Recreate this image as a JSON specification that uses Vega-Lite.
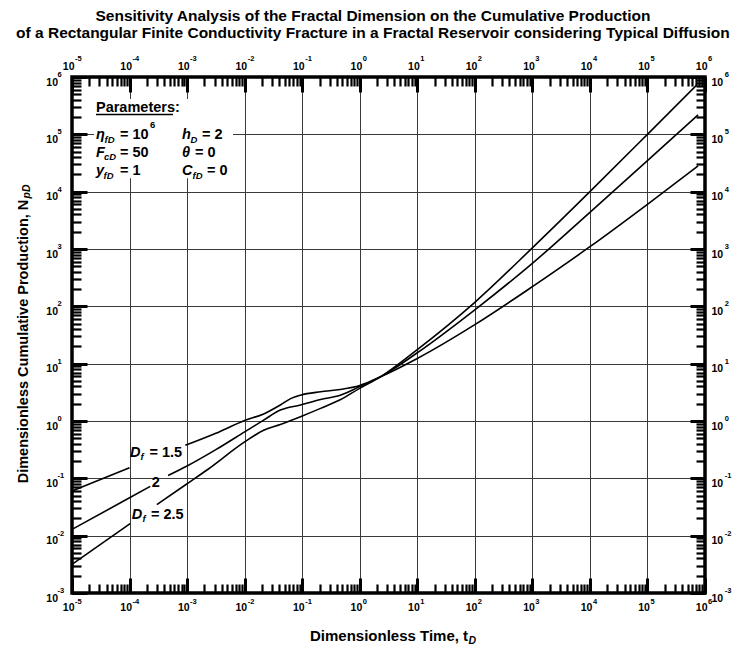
{
  "$schema": "https://vega.github.io/schema/vega-lite/v6.json",
  "width": 633,
  "height": 516,
  "autosize": {"type": "none"},
  "padding": {"left": 72, "top": 77, "right": 39, "bottom": 52},
  "background": "white",
  "title": {
    "text": ["Sensitivity Analysis of the Fractal Dimension on the Cumulative Production", "of a Rectangular Finite Conductivity Fracture in a Fractal Reservoir considering Typical Diffusion"],
    "font": "Liberation Sans",
    "fontSize": 15.5,
    "fontWeight": "bold",
    "color": "black",
    "lineHeight": 17,
    "anchor": "middle",
    "frame": "bounds",
    "offset": 13
  },
  "config": {
    "font": "Liberation Sans",
    "view": {"stroke": "black", "strokeWidth": 3.5},
    "axis": {
      "labelFont": "Liberation Sans",
      "titleFont": "Liberation Sans",
      "labelFontWeight": "bold",
      "titleFontWeight": "bold",
      "labelColor": "black",
      "titleColor": "black",
      "tickColor": "black",
      "domain": false,
      "grid": false,
      "labelFlush": false,
      "labelOverlap": false,
      "labelBound": false
    }
  },
  "datasets": {
    "curves": [
      {"df": "1.5", "seg": "a1", "t": 0.00001, "np": 0.06026},
      {"df": "1.5", "seg": "a1", "t": 0.0001, "np": 0.1531},
      {"df": "1.5", "seg": "a2", "t": 0.0009333, "np": 0.3758},
      {"df": "1.5", "seg": "a2", "t": 0.003162, "np": 0.6095},
      {"df": "1.5", "seg": "a2", "t": 0.01, "np": 1.023},
      {"df": "1.5", "seg": "a2", "t": 0.02138, "np": 1.33},
      {"df": "1.5", "seg": "a2", "t": 0.04169, "np": 1.905},
      {"df": "1.5", "seg": "a2", "t": 0.0631, "np": 2.455},
      {"df": "1.5", "seg": "a2", "t": 0.09333, "np": 2.818},
      {"df": "1.5", "seg": "a2", "t": 0.2089, "np": 3.236},
      {"df": "1.5", "seg": "a2", "t": 0.4571, "np": 3.548},
      {"df": "1.5", "seg": "a2", "t": 1, "np": 4.169},
      {"df": "1.5", "seg": "a2", "t": 2.291, "np": 5.888},
      {"df": "1.5", "seg": "a2", "t": 10, "np": 12.3},
      {"df": "1.5", "seg": "a2", "t": 100, "np": 47.86},
      {"df": "1.5", "seg": "a2", "t": 1000, "np": 220.3},
      {"df": "1.5", "seg": "a2", "t": 10000, "np": 1096},
      {"df": "1.5", "seg": "a2", "t": 100000, "np": 6026},
      {"df": "1.5", "seg": "a2", "t": 758600, "np": 28180},
      {"df": "2", "seg": "b1", "t": 0.00001, "np": 0.01288},
      {"df": "2", "seg": "b1", "t": 0.0001, "np": 0.04571},
      {"df": "2", "seg": "b1", "t": 0.0002291, "np": 0.07244},
      {"df": "2", "seg": "b2", "t": 0.0004677, "np": 0.1122},
      {"df": "2", "seg": "b2", "t": 0.001, "np": 0.1641},
      {"df": "2", "seg": "b2", "t": 0.003162, "np": 0.3162},
      {"df": "2", "seg": "b2", "t": 0.01, "np": 0.6457},
      {"df": "2", "seg": "b2", "t": 0.02138, "np": 1.035},
      {"df": "2", "seg": "b2", "t": 0.04169, "np": 1.549},
      {"df": "2", "seg": "b2", "t": 0.09333, "np": 1.905},
      {"df": "2", "seg": "b2", "t": 0.2089, "np": 2.371},
      {"df": "2", "seg": "b2", "t": 0.4571, "np": 2.818},
      {"df": "2", "seg": "b2", "t": 1, "np": 3.981},
      {"df": "2", "seg": "b2", "t": 2.291, "np": 5.888},
      {"df": "2", "seg": "b2", "t": 10, "np": 15.49},
      {"df": "2", "seg": "b2", "t": 100, "np": 87.1},
      {"df": "2", "seg": "b2", "t": 1000, "np": 562.3},
      {"df": "2", "seg": "b2", "t": 10000, "np": 4365},
      {"df": "2", "seg": "b2", "t": 100000, "np": 34670},
      {"df": "2", "seg": "b2", "t": 758600, "np": 218800},
      {"df": "2.5", "seg": "c1", "t": 0.00001, "np": 0.003162},
      {"df": "2.5", "seg": "c1", "t": 0.0001023, "np": 0.01622},
      {"df": "2.5", "seg": "c2", "t": 0.0002979, "np": 0.03467},
      {"df": "2.5", "seg": "c2", "t": 0.001, "np": 0.08035},
      {"df": "2.5", "seg": "c2", "t": 0.002213, "np": 0.1396},
      {"df": "2.5", "seg": "c2", "t": 0.01, "np": 0.4315},
      {"df": "2.5", "seg": "c2", "t": 0.02138, "np": 0.6918},
      {"df": "2.5", "seg": "c2", "t": 0.04169, "np": 0.871},
      {"df": "2.5", "seg": "c2", "t": 0.09333, "np": 1.189},
      {"df": "2.5", "seg": "c2", "t": 0.2089, "np": 1.66},
      {"df": "2.5", "seg": "c2", "t": 0.4571, "np": 2.344},
      {"df": "2.5", "seg": "c2", "t": 1, "np": 3.715},
      {"df": "2.5", "seg": "c2", "t": 2.291, "np": 5.888},
      {"df": "2.5", "seg": "c2", "t": 10, "np": 17.58},
      {"df": "2.5", "seg": "c2", "t": 100, "np": 117.5},
      {"df": "2.5", "seg": "c2", "t": 1000, "np": 1047},
      {"df": "2.5", "seg": "c2", "t": 10000, "np": 10000},
      {"df": "2.5", "seg": "c2", "t": 100000, "np": 100000},
      {"df": "2.5", "seg": "c2", "t": 716100, "np": 724400}
    ],
    "texts": [
      {"kind": "main", "label": "Parameters:", "x": 0.00002612, "y": 244900},
      {"kind": "main", "label": "= 10", "x": 0.00006823, "y": 82990},
      {"kind": "main", "label": "= 2", "x": 0.001816, "y": 82990},
      {"kind": "main", "label": "= 50", "x": 0.00006823, "y": 40270},
      {"kind": "main", "label": "= 0", "x": 0.001371, "y": 40270},
      {"kind": "main", "label": "= 1", "x": 0.00006823, "y": 19540},
      {"kind": "main", "label": "= 0", "x": 0.002218, "y": 19540},
      {"kind": "main", "label": "= 1.5", "x": 0.0002223, "y": 0.2382},
      {"kind": "main", "label": "2", "x": 0.0002427, "y": 0.07145},
      {"kind": "main", "label": "= 2.5", "x": 0.000236, "y": 0.0195},
      {"kind": "ital", "label": "η", "x": 0.00002612, "y": 82990},
      {"kind": "ital", "label": "h", "x": 0.0008147, "y": 82990},
      {"kind": "ital", "label": "F", "x": 0.00002612, "y": 40270},
      {"kind": "ital", "label": "θ", "x": 0.0008147, "y": 40270},
      {"kind": "ital", "label": "y", "x": 0.00002612, "y": 19540},
      {"kind": "ital", "label": "C", "x": 0.0008147, "y": 19540},
      {"kind": "ital", "label": "D", "x": 0.0001019, "y": 0.2382},
      {"kind": "ital", "label": "D", "x": 0.0001089, "y": 0.0195},
      {"kind": "sub", "label": "fD", "x": 0.00003673, "y": 71940},
      {"kind": "sub", "label": "D", "x": 0.001146, "y": 71940},
      {"kind": "sub", "label": "cD", "x": 0.00003597, "y": 34970},
      {"kind": "sub", "label": "fD", "x": 0.00003524, "y": 16960},
      {"kind": "sub", "label": "fD", "x": 0.001242, "y": 16960},
      {"kind": "sub", "label": "f", "x": 0.0001549, "y": 0.2084},
      {"kind": "sub", "label": "f", "x": 0.0001679, "y": 0.0171},
      {"kind": "sup", "label": "6", "x": 0.0002265, "y": 128800},
      {"kind": "axsub", "label": "D", "x": 77.6, "y": 0.0001315},
      {"kind": "axsubr", "label": "pD", "x": 0.000001862, "y": 7603}
    ],
    "boxes": [
      {"x": 0.0000241, "x2": 0.006281, "y": 413000, "y2": 17100}
    ],
    "underline": [
      {"x": 0.00002612, "x2": 0.0005689, "y": 221800}
    ]
  },
  "resolve": {"axis": {"x": "independent", "y": "independent"}},
  "layer": [
    {
      "data": {"name": "boxes"},
      "mark": {"type": "rect", "fill": "white", "stroke": null},
      "encoding": {
        "x": {"field": "x", "type": "quantitative", "scale": {"type": "log", "domain": [0.00001, 1000000], "nice": false},
          "axis": {"orient": "top", "title": null, "values": [0.00001, 0.0001, 0.001, 0.01, 0.1, 1, 10, 100, 1000, 10000, 100000, 1000000],
            "offset": -15, "tickSize": 15, "tickWidth": 3, "grid": false,
            "labelExpr": "'' + round(log(datum.value)/LN10)", "labelAlign": "left", "labelOffset": 2.5, "labelBaseline": "alphabetic", "labelPadding": 17, "labelFontSize": 7.5, "zindex": 1}},
        "x2": {"field": "x2"},
        "y": {"field": "y", "type": "quantitative", "scale": {"type": "log", "domain": [0.001, 1000000], "nice": false},
          "axis": {"orient": "right", "title": null, "values": [0.001, 0.01, 0.1, 1, 10, 100, 1000, 10000, 100000, 1000000],
            "offset": -15, "tickSize": 15, "tickWidth": 3, "grid": false,
            "labelExpr": "'' + round(log(datum.value)/LN10)", "labelAlign": "left", "labelOffset": -0.5, "labelBaseline": "alphabetic", "labelPadding": 19.2, "labelFontSize": 7.5, "zindex": 1}},
        "y2": {"field": "y2"}
      }
    },
    {
      "data": {"name": "curves"},
      "mark": {"type": "line", "color": "black", "strokeWidth": 1.6, "interpolate": "monotone"},
      "encoding": {
        "x": {"field": "t", "type": "quantitative", "scale": {"type": "log", "domain": [0.00001, 1000000], "nice": false},
          "axis": {"orient": "bottom", "title": "Dimensionless Time, t", "titleFontSize": 15, "titleBaseline": "alphabetic", "titleY": 56,
            "values": [0.00001,0.00002,0.00003,0.00004,0.00005,0.00006,0.00007,0.00008,0.00009,0.0001,0.0002,0.0003,0.0004,0.0005,0.0006,0.0007,0.0008,0.0009,0.001,0.002,0.003,0.004,0.005,0.006,0.007,0.008,0.009,0.01,0.02,0.03,0.04,0.05,0.06,0.07,0.08,0.09,0.1,0.2,0.3,0.4,0.5,0.6,0.7,0.8,0.9,1,2,3,4,5,6,7,8,9,10,20,30,40,50,60,70,80,90,100,200,300,400,500,600,700,800,900,1000,2000,3000,4000,5000,6000,7000,8000,9000,10000,20000,30000,40000,50000,60000,70000,80000,90000,100000,200000,300000,400000,500000,600000,700000,800000,900000,1000000],
            "offset": -9, "tickSize": 9, "tickWidth": 2.2, "grid": false,
            "labelExpr": "abs(log(datum.value)/LN10 - round(log(datum.value)/LN10)) < 0.001 ? '10' : ''",
            "labelAlign": "right", "labelOffset": 2, "labelBaseline": "alphabetic", "labelPadding": 17, "labelFontSize": 10.5, "zindex": 1}},
        "y": {"field": "np", "type": "quantitative", "scale": {"type": "log", "domain": [0.001, 1000000], "nice": false},
          "axis": {"orient": "left", "title": "Dimensionless Cumulative Production, N", "titleFontSize": 14.5, "titleBaseline": "alphabetic", "titleAngle": 270, "titleX": -54, "titleY": 264,
            "values": [0.001,0.002,0.003,0.004,0.005,0.006,0.007,0.008,0.009,0.01,0.02,0.03,0.04,0.05,0.06,0.07,0.08,0.09,0.1,0.2,0.3,0.4,0.5,0.6,0.7,0.8,0.9,1,2,3,4,5,6,7,8,9,10,20,30,40,50,60,70,80,90,100,200,300,400,500,600,700,800,900,1000,2000,3000,4000,5000,6000,7000,8000,9000,10000,20000,30000,40000,50000,60000,70000,80000,90000,100000,200000,300000,400000,500000,600000,700000,800000,900000,1000000],
            "offset": -9, "tickSize": 9, "tickWidth": 2.2, "grid": false,
            "labelExpr": "abs(log(datum.value)/LN10 - round(log(datum.value)/LN10)) < 0.001 ? '10' : ''",
            "labelAlign": "right", "labelOffset": 8, "labelBaseline": "alphabetic", "labelPadding": 14.5, "labelFontSize": 10.5, "zindex": 1}},
        "detail": {"field": "seg"}
      }
    },
    {
      "data": {"name": "texts"},
      "transform": [{"filter": "datum.kind == 'main'"}],
      "mark": {"type": "text", "align": "left", "baseline": "alphabetic", "font": "Liberation Sans", "fontSize": 14.5, "fontWeight": "bold", "color": "black"},
      "encoding": {
        "x": {"field": "x", "type": "quantitative", "scale": {"type": "log", "domain": [0.00001, 1000000], "nice": false},
          "axis": {"orient": "bottom", "title": null, "values": [0.00001, 0.0001, 0.001, 0.01, 0.1, 1, 10, 100, 1000, 10000, 100000, 1000000],
            "offset": -15, "tickSize": 15, "tickWidth": 3,
            "grid": true, "gridColor": "#3a3a3a", "gridWidth": 1,
            "gridOpacity": {"condition": {"test": "datum.value < 0.000015 || datum.value > 500000", "value": 0}, "value": 1},
            "labelExpr": "'' + round(log(datum.value)/LN10)", "labelAlign": "left", "labelOffset": 2.5, "labelBaseline": "alphabetic", "labelPadding": 10, "labelFontSize": 7.5, "zindex": 0}},
        "y": {"field": "y", "type": "quantitative", "scale": {"type": "log", "domain": [0.001, 1000000], "nice": false},
          "axis": {"orient": "left", "title": null, "values": [0.001, 0.01, 0.1, 1, 10, 100, 1000, 10000, 100000, 1000000],
            "offset": -15, "tickSize": 15, "tickWidth": 3,
            "grid": true, "gridColor": "#3a3a3a", "gridWidth": 1,
            "gridOpacity": {"condition": {"test": "datum.value < 0.0015 || datum.value > 500000", "value": 0}, "value": 1},
            "labelExpr": "'' + round(log(datum.value)/LN10)", "labelAlign": "left", "labelOffset": -0.5, "labelBaseline": "alphabetic", "labelPadding": 15, "labelFontSize": 7.5, "zindex": 0}},
        "text": {"field": "label"}
      }
    },
    {
      "data": {"name": "texts"},
      "transform": [{"filter": "datum.kind == 'ital'"}],
      "mark": {"type": "text", "align": "left", "baseline": "alphabetic", "font": "Liberation Sans", "fontSize": 14.5, "fontWeight": "bold", "fontStyle": "italic", "color": "black"},
      "encoding": {
        "x": {"field": "x", "type": "quantitative", "scale": {"type": "log", "domain": [0.00001, 1000000], "nice": false},
          "axis": {"orient": "top", "title": null,
            "values": [0.00001,0.00002,0.00003,0.00004,0.00005,0.00006,0.00007,0.00008,0.00009,0.0001,0.0002,0.0003,0.0004,0.0005,0.0006,0.0007,0.0008,0.0009,0.001,0.002,0.003,0.004,0.005,0.006,0.007,0.008,0.009,0.01,0.02,0.03,0.04,0.05,0.06,0.07,0.08,0.09,0.1,0.2,0.3,0.4,0.5,0.6,0.7,0.8,0.9,1,2,3,4,5,6,7,8,9,10,20,30,40,50,60,70,80,90,100,200,300,400,500,600,700,800,900,1000,2000,3000,4000,5000,6000,7000,8000,9000,10000,20000,30000,40000,50000,60000,70000,80000,90000,100000,200000,300000,400000,500000,600000,700000,800000,900000,1000000],
            "offset": -9, "tickSize": 9, "tickWidth": 2.2, "grid": false,
            "labelExpr": "abs(log(datum.value)/LN10 - round(log(datum.value)/LN10)) < 0.001 ? '10' : ''",
            "labelAlign": "right", "labelOffset": 2, "labelBaseline": "alphabetic", "labelPadding": 8, "labelFontSize": 10.5, "zindex": 1}},
        "y": {"field": "y", "type": "quantitative", "scale": {"type": "log", "domain": [0.001, 1000000], "nice": false},
          "axis": {"orient": "right", "title": null,
            "values": [0.001,0.002,0.003,0.004,0.005,0.006,0.007,0.008,0.009,0.01,0.02,0.03,0.04,0.05,0.06,0.07,0.08,0.09,0.1,0.2,0.3,0.4,0.5,0.6,0.7,0.8,0.9,1,2,3,4,5,6,7,8,9,10,20,30,40,50,60,70,80,90,100,200,300,400,500,600,700,800,900,1000,2000,3000,4000,5000,6000,7000,8000,9000,10000,20000,30000,40000,50000,60000,70000,80000,90000,100000,200000,300000,400000,500000,600000,700000,800000,900000,1000000],
            "offset": -9, "tickSize": 9, "tickWidth": 2.2, "grid": false,
            "labelExpr": "abs(log(datum.value)/LN10 - round(log(datum.value)/LN10)) < 0.001 ? '10' : ''",
            "labelAlign": "left", "labelOffset": 8, "labelBaseline": "alphabetic", "labelPadding": 6, "labelFontSize": 10.5, "zindex": 1}},
        "text": {"field": "label"}
      }
    },
    {
      "data": {"name": "texts"},
      "transform": [{"filter": "datum.kind == 'sub'"}],
      "mark": {"type": "text", "align": "left", "baseline": "alphabetic", "font": "Liberation Sans", "fontSize": 9.5, "fontWeight": "bold", "fontStyle": "italic", "color": "black"},
      "encoding": {
        "x": {"field": "x", "type": "quantitative", "scale": {"type": "log", "domain": [0.00001, 1000000], "nice": false}, "axis": null},
        "y": {"field": "y", "type": "quantitative", "scale": {"type": "log", "domain": [0.001, 1000000], "nice": false}, "axis": null},
        "text": {"field": "label"}
      }
    },
    {
      "data": {"name": "texts"},
      "transform": [{"filter": "datum.kind == 'sup'"}],
      "mark": {"type": "text", "align": "left", "baseline": "alphabetic", "font": "Liberation Sans", "fontSize": 9.5, "fontWeight": "bold", "color": "black"},
      "encoding": {
        "x": {"field": "x", "type": "quantitative", "scale": {"type": "log", "domain": [0.00001, 1000000], "nice": false}, "axis": null},
        "y": {"field": "y", "type": "quantitative", "scale": {"type": "log", "domain": [0.001, 1000000], "nice": false}, "axis": null},
        "text": {"field": "label"}
      }
    },
    {
      "data": {"name": "texts"},
      "transform": [{"filter": "datum.kind == 'axsub'"}],
      "mark": {"type": "text", "align": "left", "baseline": "alphabetic", "font": "Liberation Sans", "fontSize": 10.5, "fontWeight": "bold", "fontStyle": "italic", "color": "black"},
      "encoding": {
        "x": {"field": "x", "type": "quantitative", "scale": {"type": "log", "domain": [0.00001, 1000000], "nice": false}, "axis": null},
        "y": {"field": "y", "type": "quantitative", "scale": {"type": "log", "domain": [0.001, 1000000], "nice": false}, "axis": null},
        "text": {"field": "label"}
      }
    },
    {
      "data": {"name": "texts"},
      "transform": [{"filter": "datum.kind == 'axsubr'"}],
      "mark": {"type": "text", "align": "left", "baseline": "alphabetic", "angle": 270, "font": "Liberation Sans", "fontSize": 10.5, "fontWeight": "bold", "fontStyle": "italic", "color": "black"},
      "encoding": {
        "x": {"field": "x", "type": "quantitative", "scale": {"type": "log", "domain": [0.00001, 1000000], "nice": false}, "axis": null},
        "y": {"field": "y", "type": "quantitative", "scale": {"type": "log", "domain": [0.001, 1000000], "nice": false}, "axis": null},
        "text": {"field": "label"}
      }
    },
    {
      "data": {"name": "underline"},
      "mark": {"type": "rule", "color": "black", "strokeWidth": 1.5},
      "encoding": {
        "x": {"field": "x", "type": "quantitative", "scale": {"type": "log", "domain": [0.00001, 1000000], "nice": false}, "axis": null},
        "x2": {"field": "x2"},
        "y": {"field": "y", "type": "quantitative", "scale": {"type": "log", "domain": [0.001, 1000000], "nice": false}, "axis": null}
      }
    }
  ]
}
